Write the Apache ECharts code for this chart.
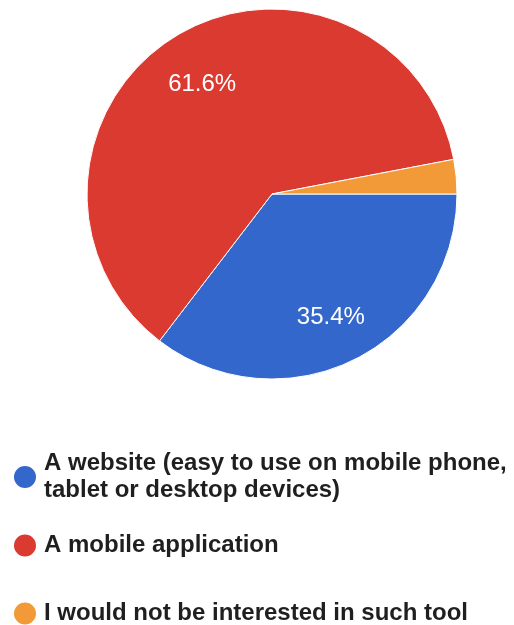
<!DOCTYPE html>
<html>
<head>
<meta charset="utf-8">
<script src="https://cdn.jsdelivr.net/npm/echarts@6/dist/echarts.min.js"></script>
<style>
  html, body { margin: 0; padding: 0; background: #ffffff; }
  #chart { width: 514px; height: 625px; }
</style>
</head>
<body>
<div id="chart"></div>
<script>
// Survey answers and their share of responses (%)
const categories = [
  'A website (easy to use on mobile phone, tablet or desktop devices)',
  'A mobile application',
  'I would not be interested in such tool'
];
const shares = [35.4, 61.6, 3.0];
const colors = ['#3367cc', '#db3a31', '#f19a37'];

const FONT = '"Liberation Sans", Arial, Helvetica, sans-serif';
const CENTER = [272, 194];
const RADIUS = 185;

const pieData = categories.map((name, i) => ({ name, value: shares[i] }));

// One legend block per answer so each row sits at its own height
const legendTops = [450, 532, 600];
const legends = categories.map((name, i) => ({
  data: [name],
  orient: 'vertical',
  left: 12,
  top: legendTops[i],
  padding: 0,
  icon: 'circle',
  itemWidth: 28,
  itemHeight: 24,
  selectedMode: false,
  textStyle: {
    fontFamily: FONT,
    fontSize: 24,
    fontWeight: 'bold',
    color: '#1f1f1f',
    width: 472,
    overflow: 'break',
    lineHeight: 27
  }
}));

const chart = echarts.init(document.getElementById('chart'), null, { renderer: 'canvas' });
chart.setOption({
  animation: false,
  color: colors,
  legend: legends,
  series: [
    {
      // the slices
      type: 'pie',
      center: CENTER,
      radius: [0, RADIUS],
      startAngle: 0,
      clockwise: true,
      silent: true,
      label: { show: false },
      labelLine: { show: false },
      itemStyle: { borderColor: '#ffffff', borderWidth: 1 },
      data: pieData
    },
    {
      // percentage labels, placed on a ring so they sit further out
      type: 'pie',
      center: CENTER,
      radius: [75, RADIUS],
      startAngle: 0,
      clockwise: true,
      silent: true,
      itemStyle: { color: 'transparent', borderWidth: 0 },
      labelLine: { show: false },
      label: {
        show: true,
        position: 'inside',
        offset: [0, 4],
        fontFamily: FONT,
        fontSize: 24,
        color: '#ffffff',
        formatter: p => (p.value >= 5 ? p.value.toFixed(1) + '%' : '')
      },
      data: pieData
    }
  ]
});
</script>
</body>
</html>
